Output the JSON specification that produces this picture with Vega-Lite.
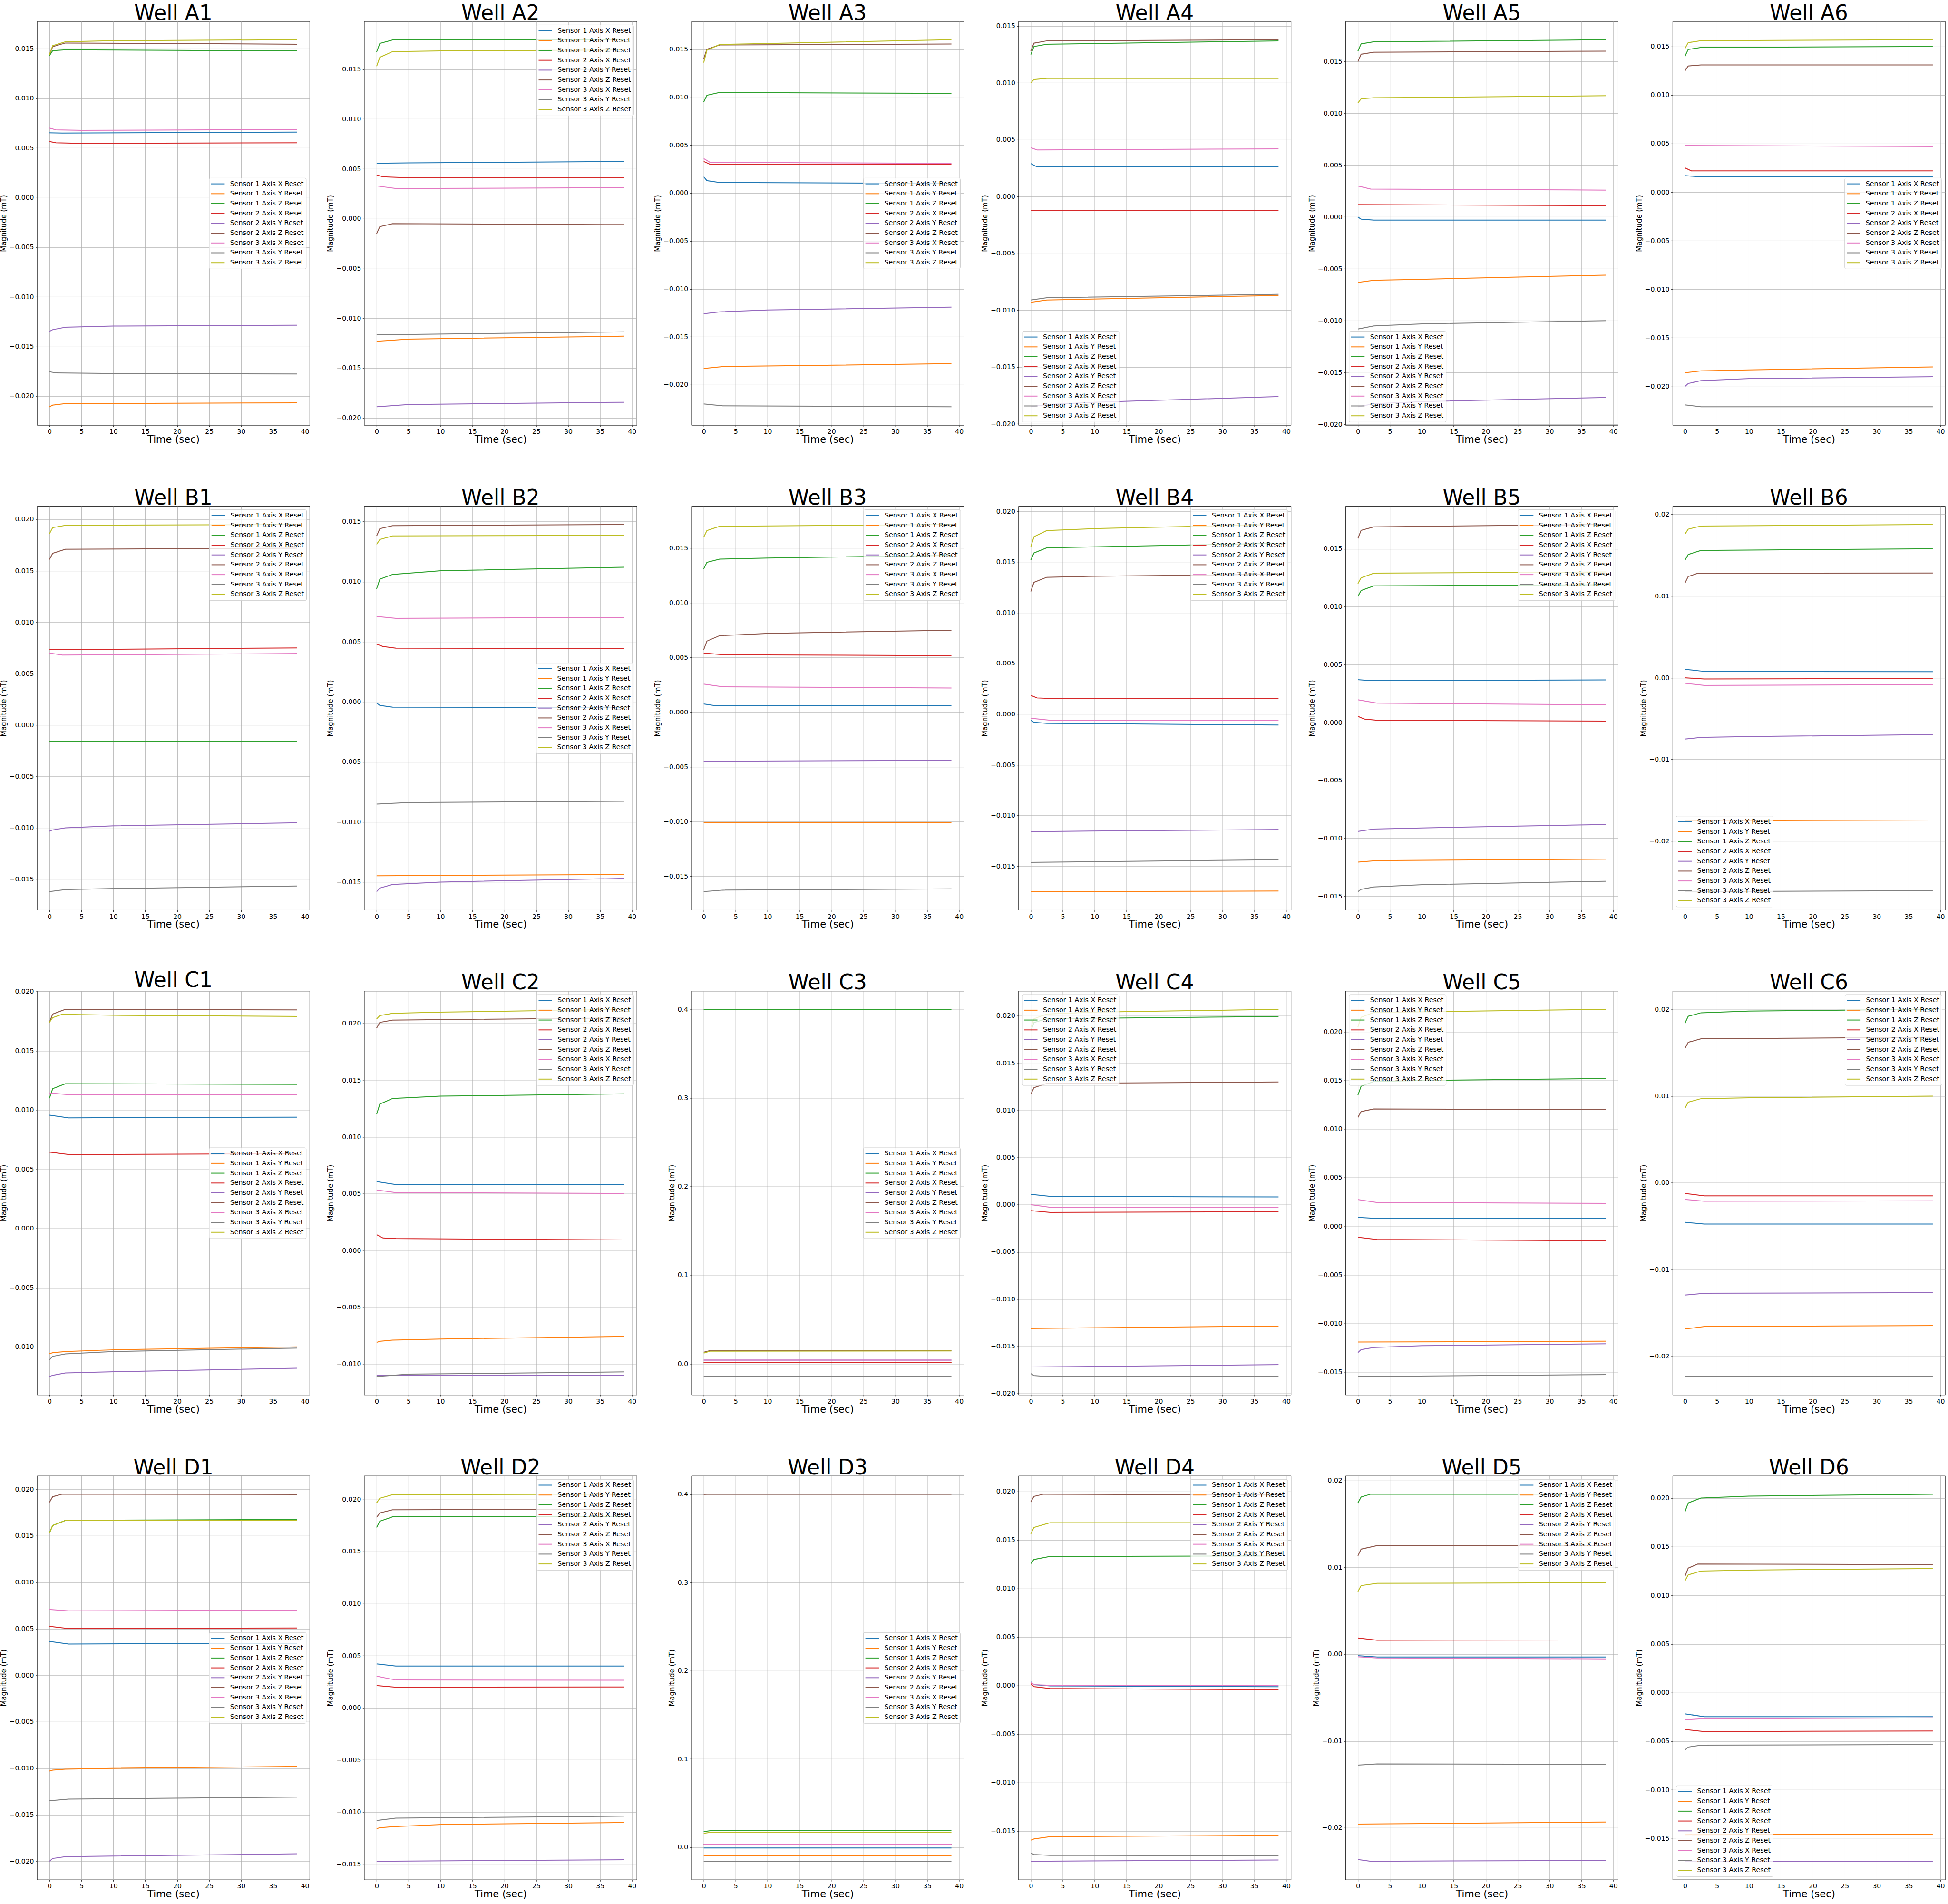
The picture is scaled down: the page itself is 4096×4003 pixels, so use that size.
{
"$schema":"https://vega.github.io/schema/vega-lite/v6.json",
"autosize":{"type":"pad"},
"padding":{"left":-1,"top":5.9,"right":0,"bottom":0},
"background":"white",
"data":{"values":[
{"w":"A1","s":"1X","t":0,"v":0.00652},{"w":"A1","s":"1X","t":2,"v":0.0065},{"w":"A1","s":"1X","t":38.8,"v":0.00659},
{"w":"A1","s":"1Y","t":0,"v":-0.02107},{"w":"A1","s":"1Y","t":0.5,"v":-0.0209},{"w":"A1","s":"1Y","t":2.5,"v":-0.02075},{"w":"A1","s":"1Y","t":38.8,"v":-0.02067},
{"w":"A1","s":"1Z","t":0,"v":0.0143},{"w":"A1","s":"1Z","t":0.5,"v":0.0148},{"w":"A1","s":"1Z","t":2.5,"v":0.01488},{"w":"A1","s":"1Z","t":38.8,"v":0.01477},
{"w":"A1","s":"2X","t":0,"v":0.00565},{"w":"A1","s":"2X","t":1,"v":0.00552},{"w":"A1","s":"2X","t":5,"v":0.00546},{"w":"A1","s":"2X","t":38.8,"v":0.00552},
{"w":"A1","s":"2Y","t":0,"v":-0.01347},{"w":"A1","s":"2Y","t":0.5,"v":-0.0133},{"w":"A1","s":"2Y","t":2.5,"v":-0.01306},{"w":"A1","s":"2Y","t":10,"v":-0.01294},{"w":"A1","s":"2Y","t":38.8,"v":-0.01285},
{"w":"A1","s":"2Z","t":0,"v":0.0144},{"w":"A1","s":"2Z","t":0.5,"v":0.0152},{"w":"A1","s":"2Z","t":2.5,"v":0.01557},{"w":"A1","s":"2Z","t":38.8,"v":0.01545},
{"w":"A1","s":"3X","t":0,"v":0.007},{"w":"A1","s":"3X","t":1,"v":0.00682},{"w":"A1","s":"3X","t":5,"v":0.00677},{"w":"A1","s":"3X","t":38.8,"v":0.00686},
{"w":"A1","s":"3Y","t":0,"v":-0.01754},{"w":"A1","s":"3Y","t":1,"v":-0.01766},{"w":"A1","s":"3Y","t":10,"v":-0.01772},{"w":"A1","s":"3Y","t":38.8,"v":-0.01776},
{"w":"A1","s":"3Z","t":0,"v":0.0144},{"w":"A1","s":"3Z","t":0.5,"v":0.0153},{"w":"A1","s":"3Z","t":2.5,"v":0.0157},{"w":"A1","s":"3Z","t":10,"v":0.0158},{"w":"A1","s":"3Z","t":38.8,"v":0.0159},

{"w":"A2","s":"1X","t":0,"v":0.00557},{"w":"A2","s":"1X","t":5,"v":0.0056},{"w":"A2","s":"1X","t":38.8,"v":0.00574},
{"w":"A2","s":"1Y","t":0,"v":-0.01231},{"w":"A2","s":"1Y","t":5,"v":-0.01209},{"w":"A2","s":"1Y","t":38.8,"v":-0.0118},
{"w":"A2","s":"1Z","t":0,"v":0.01674},{"w":"A2","s":"1Z","t":0.5,"v":0.0176},{"w":"A2","s":"1Z","t":2.5,"v":0.01795},{"w":"A2","s":"1Z","t":38.8,"v":0.01797},
{"w":"A2","s":"2X","t":0,"v":0.0044},{"w":"A2","s":"2X","t":1,"v":0.0042},{"w":"A2","s":"2X","t":5,"v":0.00411},{"w":"A2","s":"2X","t":38.8,"v":0.00414},
{"w":"A2","s":"2Y","t":0,"v":-0.01889},{"w":"A2","s":"2Y","t":5,"v":-0.01866},{"w":"A2","s":"2Y","t":38.8,"v":-0.01843},
{"w":"A2","s":"2Z","t":0,"v":-0.0015},{"w":"A2","s":"2Z","t":0.5,"v":-0.0008},{"w":"A2","s":"2Z","t":2.5,"v":-0.0005},{"w":"A2","s":"2Z","t":38.8,"v":-0.0006},
{"w":"A2","s":"3X","t":0,"v":0.00329},{"w":"A2","s":"3X","t":3,"v":0.00303},{"w":"A2","s":"3X","t":38.8,"v":0.00311},
{"w":"A2","s":"3Y","t":0,"v":-0.01166},{"w":"A2","s":"3Y","t":38.8,"v":-0.01137},
{"w":"A2","s":"3Z","t":0,"v":0.0153},{"w":"A2","s":"3Z","t":0.5,"v":0.0162},{"w":"A2","s":"3Z","t":2.5,"v":0.01678},{"w":"A2","s":"3Z","t":10,"v":0.01685},{"w":"A2","s":"3Z","t":38.8,"v":0.01694},

{"w":"A3","s":"1X","t":0,"v":0.0017},{"w":"A3","s":"1X","t":0.5,"v":0.0013},{"w":"A3","s":"1X","t":2.5,"v":0.0011},{"w":"A3","s":"1X","t":38.8,"v":0.001},
{"w":"A3","s":"1Y","t":0,"v":-0.0183},{"w":"A3","s":"1Y","t":3,"v":-0.0181},{"w":"A3","s":"1Y","t":38.8,"v":-0.0178},
{"w":"A3","s":"1Z","t":0,"v":0.0095},{"w":"A3","s":"1Z","t":0.5,"v":0.0102},{"w":"A3","s":"1Z","t":2.5,"v":0.0105},{"w":"A3","s":"1Z","t":38.8,"v":0.0104},
{"w":"A3","s":"2X","t":0,"v":0.0033},{"w":"A3","s":"2X","t":1,"v":0.003},{"w":"A3","s":"2X","t":38.8,"v":0.003},
{"w":"A3","s":"2Y","t":0,"v":-0.0126},{"w":"A3","s":"2Y","t":2.5,"v":-0.0124},{"w":"A3","s":"2Y","t":10,"v":-0.0122},{"w":"A3","s":"2Y","t":38.8,"v":-0.0119},
{"w":"A3","s":"2Z","t":0,"v":0.014},{"w":"A3","s":"2Z","t":0.5,"v":0.015},{"w":"A3","s":"2Z","t":2.5,"v":0.01545},{"w":"A3","s":"2Z","t":38.8,"v":0.01555},
{"w":"A3","s":"3X","t":0,"v":0.0036},{"w":"A3","s":"3X","t":1,"v":0.0032},{"w":"A3","s":"3X","t":38.8,"v":0.0031},
{"w":"A3","s":"3Y","t":0,"v":-0.022},{"w":"A3","s":"3Y","t":3,"v":-0.0222},{"w":"A3","s":"3Y","t":38.8,"v":-0.0223},
{"w":"A3","s":"3Z","t":0,"v":0.0136},{"w":"A3","s":"3Z","t":0.5,"v":0.0149},{"w":"A3","s":"3Z","t":2.5,"v":0.0155},{"w":"A3","s":"3Z","t":38.8,"v":0.016},

{"w":"A4","s":"1X","t":0,"v":0.0029},{"w":"A4","s":"1X","t":1,"v":0.0026},{"w":"A4","s":"1X","t":38.8,"v":0.0026},
{"w":"A4","s":"1Y","t":0,"v":-0.0093},{"w":"A4","s":"1Y","t":2.5,"v":-0.0091},{"w":"A4","s":"1Y","t":38.8,"v":-0.0087},
{"w":"A4","s":"1Z","t":0,"v":0.0125},{"w":"A4","s":"1Z","t":0.5,"v":0.0132},{"w":"A4","s":"1Z","t":2.5,"v":0.0134},{"w":"A4","s":"1Z","t":38.8,"v":0.0137},
{"w":"A4","s":"2X","t":0,"v":-0.0012},{"w":"A4","s":"2X","t":38.8,"v":-0.0012},
{"w":"A4","s":"2Y","t":0,"v":-0.0185},{"w":"A4","s":"2Y","t":2.5,"v":-0.0183},{"w":"A4","s":"2Y","t":10,"v":-0.0181},{"w":"A4","s":"2Y","t":38.8,"v":-0.0176},
{"w":"A4","s":"2Z","t":0,"v":0.0128},{"w":"A4","s":"2Z","t":0.5,"v":0.0135},{"w":"A4","s":"2Z","t":2.5,"v":0.0137},{"w":"A4","s":"2Z","t":38.8,"v":0.0138},
{"w":"A4","s":"3X","t":0,"v":0.0043},{"w":"A4","s":"3X","t":1,"v":0.0041},{"w":"A4","s":"3X","t":38.8,"v":0.0042},
{"w":"A4","s":"3Y","t":0,"v":-0.0091},{"w":"A4","s":"3Y","t":2.5,"v":-0.0089},{"w":"A4","s":"3Y","t":38.8,"v":-0.0086},
{"w":"A4","s":"3Z","t":0,"v":0.01},{"w":"A4","s":"3Z","t":0.5,"v":0.0103},{"w":"A4","s":"3Z","t":2.5,"v":0.0104},{"w":"A4","s":"3Z","t":38.8,"v":0.0104},

{"w":"A5","s":"1X","t":0,"v":0},{"w":"A5","s":"1X","t":0.5,"v":-0.0002},{"w":"A5","s":"1X","t":2.5,"v":-0.0003},{"w":"A5","s":"1X","t":38.8,"v":-0.0003},
{"w":"A5","s":"1Y","t":0,"v":-0.0063},{"w":"A5","s":"1Y","t":2.5,"v":-0.0061},{"w":"A5","s":"1Y","t":10,"v":-0.006},{"w":"A5","s":"1Y","t":38.8,"v":-0.0056},
{"w":"A5","s":"1Z","t":0,"v":0.016},{"w":"A5","s":"1Z","t":0.5,"v":0.0167},{"w":"A5","s":"1Z","t":2.5,"v":0.0169},{"w":"A5","s":"1Z","t":38.8,"v":0.0171},
{"w":"A5","s":"2X","t":0,"v":0.0012},{"w":"A5","s":"2X","t":38.8,"v":0.0011},
{"w":"A5","s":"2Y","t":0,"v":-0.0183},{"w":"A5","s":"2Y","t":2.5,"v":-0.018},{"w":"A5","s":"2Y","t":10,"v":-0.0178},{"w":"A5","s":"2Y","t":38.8,"v":-0.0174},
{"w":"A5","s":"2Z","t":0,"v":0.015},{"w":"A5","s":"2Z","t":0.5,"v":0.0157},{"w":"A5","s":"2Z","t":2.5,"v":0.0159},{"w":"A5","s":"2Z","t":38.8,"v":0.016},
{"w":"A5","s":"3X","t":0,"v":0.003},{"w":"A5","s":"3X","t":2,"v":0.0027},{"w":"A5","s":"3X","t":38.8,"v":0.0026},
{"w":"A5","s":"3Y","t":0,"v":-0.0108},{"w":"A5","s":"3Y","t":2.5,"v":-0.0105},{"w":"A5","s":"3Y","t":10,"v":-0.0103},{"w":"A5","s":"3Y","t":38.8,"v":-0.01},
{"w":"A5","s":"3Z","t":0,"v":0.011},{"w":"A5","s":"3Z","t":0.5,"v":0.0114},{"w":"A5","s":"3Z","t":2.5,"v":0.0115},{"w":"A5","s":"3Z","t":38.8,"v":0.0117},

{"w":"A6","s":"1X","t":0,"v":0.0017},{"w":"A6","s":"1X","t":2,"v":0.0016},{"w":"A6","s":"1X","t":38.8,"v":0.0016},
{"w":"A6","s":"1Y","t":0,"v":-0.0186},{"w":"A6","s":"1Y","t":2.5,"v":-0.0184},{"w":"A6","s":"1Y","t":10,"v":-0.0183},{"w":"A6","s":"1Y","t":38.8,"v":-0.018},
{"w":"A6","s":"1Z","t":0,"v":0.014},{"w":"A6","s":"1Z","t":0.5,"v":0.0147},{"w":"A6","s":"1Z","t":2.5,"v":0.0149},{"w":"A6","s":"1Z","t":38.8,"v":0.015},
{"w":"A6","s":"2X","t":0,"v":0.0025},{"w":"A6","s":"2X","t":1,"v":0.0022},{"w":"A6","s":"2X","t":38.8,"v":0.0022},
{"w":"A6","s":"2Y","t":0,"v":-0.02},{"w":"A6","s":"2Y","t":0.5,"v":-0.0197},{"w":"A6","s":"2Y","t":2.5,"v":-0.0194},{"w":"A6","s":"2Y","t":10,"v":-0.0192},{"w":"A6","s":"2Y","t":38.8,"v":-0.019},
{"w":"A6","s":"2Z","t":0,"v":0.0125},{"w":"A6","s":"2Z","t":0.5,"v":0.013},{"w":"A6","s":"2Z","t":2.5,"v":0.0131},{"w":"A6","s":"2Z","t":38.8,"v":0.0131},
{"w":"A6","s":"3X","t":0,"v":0.0048},{"w":"A6","s":"3X","t":38.8,"v":0.0047},
{"w":"A6","s":"3Y","t":0,"v":-0.0219},{"w":"A6","s":"3Y","t":2.5,"v":-0.0221},{"w":"A6","s":"3Y","t":38.8,"v":-0.0221},
{"w":"A6","s":"3Z","t":0,"v":0.0148},{"w":"A6","s":"3Z","t":0.5,"v":0.0154},{"w":"A6","s":"3Z","t":2.5,"v":0.0156},{"w":"A6","s":"3Z","t":38.8,"v":0.0157},

{"w":"B1","s":"1X","t":0,"v":-0.00156},{"w":"B1","s":"1X","t":38.8,"v":-0.00156},
{"w":"B1","s":"1Y","t":0,"v":-0.00156},{"w":"B1","s":"1Y","t":38.8,"v":-0.00156},
{"w":"B1","s":"1Z","t":0,"v":-0.00156},{"w":"B1","s":"1Z","t":38.8,"v":-0.00156},
{"w":"B1","s":"2X","t":0,"v":0.00732},{"w":"B1","s":"2X","t":38.8,"v":0.0075},
{"w":"B1","s":"2Y","t":0,"v":-0.01032},{"w":"B1","s":"2Y","t":0.5,"v":-0.0102},{"w":"B1","s":"2Y","t":2.5,"v":-0.01},{"w":"B1","s":"2Y","t":10,"v":-0.0098},{"w":"B1","s":"2Y","t":38.8,"v":-0.0095},
{"w":"B1","s":"2Z","t":0,"v":0.0161},{"w":"B1","s":"2Z","t":0.5,"v":0.0167},{"w":"B1","s":"2Z","t":2.5,"v":0.0171},{"w":"B1","s":"2Z","t":38.8,"v":0.0172},
{"w":"B1","s":"3X","t":0,"v":0.007},{"w":"B1","s":"3X","t":2,"v":0.0068},{"w":"B1","s":"3X","t":38.8,"v":0.00695},
{"w":"B1","s":"3Y","t":0,"v":-0.0162},{"w":"B1","s":"3Y","t":2.5,"v":-0.016},{"w":"B1","s":"3Y","t":10,"v":-0.0159},{"w":"B1","s":"3Y","t":38.8,"v":-0.01565},
{"w":"B1","s":"3Z","t":0,"v":0.0186},{"w":"B1","s":"3Z","t":0.5,"v":0.0192},{"w":"B1","s":"3Z","t":2.5,"v":0.01942},{"w":"B1","s":"3Z","t":38.8,"v":0.0195},

{"w":"B2","s":"1X","t":0,"v":-0.0001},{"w":"B2","s":"1X","t":0.5,"v":-0.0003},{"w":"B2","s":"1X","t":2.5,"v":-0.00045},{"w":"B2","s":"1X","t":38.8,"v":-0.00047},
{"w":"B2","s":"1Y","t":0,"v":-0.01448},{"w":"B2","s":"1Y","t":38.8,"v":-0.01437},
{"w":"B2","s":"1Z","t":0,"v":0.0094},{"w":"B2","s":"1Z","t":0.5,"v":0.0102},{"w":"B2","s":"1Z","t":2.5,"v":0.0106},{"w":"B2","s":"1Z","t":10,"v":0.0109},{"w":"B2","s":"1Z","t":38.8,"v":0.0112},
{"w":"B2","s":"2X","t":0,"v":0.00479},{"w":"B2","s":"2X","t":1,"v":0.0046},{"w":"B2","s":"2X","t":3,"v":0.00446},{"w":"B2","s":"2X","t":38.8,"v":0.00444},
{"w":"B2","s":"2Y","t":0,"v":-0.0158},{"w":"B2","s":"2Y","t":0.5,"v":-0.0155},{"w":"B2","s":"2Y","t":2.5,"v":-0.0152},{"w":"B2","s":"2Y","t":10,"v":-0.015},{"w":"B2","s":"2Y","t":38.8,"v":-0.0147},
{"w":"B2","s":"2Z","t":0,"v":0.0138},{"w":"B2","s":"2Z","t":0.5,"v":0.0144},{"w":"B2","s":"2Z","t":2.5,"v":0.01465},{"w":"B2","s":"2Z","t":38.8,"v":0.01475},
{"w":"B2","s":"3X","t":0,"v":0.0071},{"w":"B2","s":"3X","t":3,"v":0.00694},{"w":"B2","s":"3X","t":38.8,"v":0.00702},
{"w":"B2","s":"3Y","t":0,"v":-0.00851},{"w":"B2","s":"3Y","t":5,"v":-0.00838},{"w":"B2","s":"3Y","t":38.8,"v":-0.00828},
{"w":"B2","s":"3Z","t":0,"v":0.0131},{"w":"B2","s":"3Z","t":0.5,"v":0.0135},{"w":"B2","s":"3Z","t":2.5,"v":0.0138},{"w":"B2","s":"3Z","t":38.8,"v":0.01385},

{"w":"B3","s":"1X","t":0,"v":0.00075},{"w":"B3","s":"1X","t":2,"v":0.00058},{"w":"B3","s":"1X","t":38.8,"v":0.00061},
{"w":"B3","s":"1Y","t":0,"v":-0.0101},{"w":"B3","s":"1Y","t":38.8,"v":-0.0101},
{"w":"B3","s":"1Z","t":0,"v":0.0131},{"w":"B3","s":"1Z","t":0.5,"v":0.0137},{"w":"B3","s":"1Z","t":2.5,"v":0.014},{"w":"B3","s":"1Z","t":10,"v":0.0141},{"w":"B3","s":"1Z","t":38.8,"v":0.01434},
{"w":"B3","s":"2X","t":0,"v":0.00541},{"w":"B3","s":"2X","t":3,"v":0.00525},{"w":"B3","s":"2X","t":38.8,"v":0.00517},
{"w":"B3","s":"2Y","t":0,"v":-0.00448},{"w":"B3","s":"2Y","t":38.8,"v":-0.0044},
{"w":"B3","s":"2Z","t":0,"v":0.0057},{"w":"B3","s":"2Z","t":0.5,"v":0.0065},{"w":"B3","s":"2Z","t":2.5,"v":0.007},{"w":"B3","s":"2Z","t":10,"v":0.0072},{"w":"B3","s":"2Z","t":38.8,"v":0.0075},
{"w":"B3","s":"3X","t":0,"v":0.00257},{"w":"B3","s":"3X","t":3,"v":0.00232},{"w":"B3","s":"3X","t":38.8,"v":0.00221},
{"w":"B3","s":"3Y","t":0,"v":-0.01641},{"w":"B3","s":"3Y","t":3,"v":-0.01627},{"w":"B3","s":"3Y","t":38.8,"v":-0.01616},
{"w":"B3","s":"3Z","t":0,"v":0.016},{"w":"B3","s":"3Z","t":0.5,"v":0.0166},{"w":"B3","s":"3Z","t":2.5,"v":0.017},{"w":"B3","s":"3Z","t":38.8,"v":0.01716},

{"w":"B4","s":"1X","t":0,"v":-0.0006},{"w":"B4","s":"1X","t":0.5,"v":-0.0008},{"w":"B4","s":"1X","t":2.5,"v":-0.0009},{"w":"B4","s":"1X","t":38.8,"v":-0.00107},
{"w":"B4","s":"1Y","t":0,"v":-0.0175},{"w":"B4","s":"1Y","t":38.8,"v":-0.01744},
{"w":"B4","s":"1Z","t":0,"v":0.0152},{"w":"B4","s":"1Z","t":0.5,"v":0.0159},{"w":"B4","s":"1Z","t":2.5,"v":0.0164},{"w":"B4","s":"1Z","t":10,"v":0.0165},{"w":"B4","s":"1Z","t":38.8,"v":0.01685},
{"w":"B4","s":"2X","t":0,"v":0.00185},{"w":"B4","s":"2X","t":1,"v":0.0016},{"w":"B4","s":"2X","t":3,"v":0.00155},{"w":"B4","s":"2X","t":38.8,"v":0.00152},
{"w":"B4","s":"2Y","t":0,"v":-0.01158},{"w":"B4","s":"2Y","t":38.8,"v":-0.01137},
{"w":"B4","s":"2Z","t":0,"v":0.0121},{"w":"B4","s":"2Z","t":0.5,"v":0.013},{"w":"B4","s":"2Z","t":2.5,"v":0.0135},{"w":"B4","s":"2Z","t":10,"v":0.0136},{"w":"B4","s":"2Z","t":38.8,"v":0.0138},
{"w":"B4","s":"3X","t":0,"v":-0.0004},{"w":"B4","s":"3X","t":3,"v":-0.0006},{"w":"B4","s":"3X","t":38.8,"v":-0.00063},
{"w":"B4","s":"3Y","t":0,"v":-0.01461},{"w":"B4","s":"3Y","t":38.8,"v":-0.01435},
{"w":"B4","s":"3Z","t":0,"v":0.0165},{"w":"B4","s":"3Z","t":0.5,"v":0.0175},{"w":"B4","s":"3Z","t":2.5,"v":0.0181},{"w":"B4","s":"3Z","t":10,"v":0.0183},{"w":"B4","s":"3Z","t":38.8,"v":0.0187},

{"w":"B5","s":"1X","t":0,"v":0.0037},{"w":"B5","s":"1X","t":2,"v":0.00362},{"w":"B5","s":"1X","t":38.8,"v":0.00368},
{"w":"B5","s":"1Y","t":0,"v":-0.01205},{"w":"B5","s":"1Y","t":3,"v":-0.01192},{"w":"B5","s":"1Y","t":38.8,"v":-0.01179},
{"w":"B5","s":"1Z","t":0,"v":0.0109},{"w":"B5","s":"1Z","t":0.5,"v":0.0114},{"w":"B5","s":"1Z","t":2.5,"v":0.0118},{"w":"B5","s":"1Z","t":38.8,"v":0.0119},
{"w":"B5","s":"2X","t":0,"v":0.00054},{"w":"B5","s":"2X","t":1,"v":0.0003},{"w":"B5","s":"2X","t":3,"v":0.0002},{"w":"B5","s":"2X","t":38.8,"v":0.00013},
{"w":"B5","s":"2Y","t":0,"v":-0.0094},{"w":"B5","s":"2Y","t":2.5,"v":-0.0092},{"w":"B5","s":"2Y","t":10,"v":-0.0091},{"w":"B5","s":"2Y","t":38.8,"v":-0.0088},
{"w":"B5","s":"2Z","t":0,"v":0.0159},{"w":"B5","s":"2Z","t":0.5,"v":0.0166},{"w":"B5","s":"2Z","t":2.5,"v":0.0169},{"w":"B5","s":"2Z","t":38.8,"v":0.0171},
{"w":"B5","s":"3X","t":0,"v":0.00197},{"w":"B5","s":"3X","t":3,"v":0.00168},{"w":"B5","s":"3X","t":38.8,"v":0.00153},
{"w":"B5","s":"3Y","t":0,"v":-0.0146},{"w":"B5","s":"3Y","t":0.5,"v":-0.0144},{"w":"B5","s":"3Y","t":2.5,"v":-0.0142},{"w":"B5","s":"3Y","t":10,"v":-0.014},{"w":"B5","s":"3Y","t":38.8,"v":-0.0137},
{"w":"B5","s":"3Z","t":0,"v":0.012},{"w":"B5","s":"3Z","t":0.5,"v":0.0125},{"w":"B5","s":"3Z","t":2.5,"v":0.0129},{"w":"B5","s":"3Z","t":38.8,"v":0.013},

{"w":"B6","s":"1X","t":0,"v":0.00104},{"w":"B6","s":"1X","t":3,"v":0.00078},{"w":"B6","s":"1X","t":38.8,"v":0.00074},
{"w":"B6","s":"1Y","t":0,"v":-0.01752},{"w":"B6","s":"1Y","t":38.8,"v":-0.01741},
{"w":"B6","s":"1Z","t":0,"v":0.0144},{"w":"B6","s":"1Z","t":0.5,"v":0.0151},{"w":"B6","s":"1Z","t":2.5,"v":0.0156},{"w":"B6","s":"1Z","t":38.8,"v":0.0158},
{"w":"B6","s":"2X","t":0,"v":0},{"w":"B6","s":"2X","t":3,"v":-0.00015},{"w":"B6","s":"2X","t":38.8,"v":-0.00007},
{"w":"B6","s":"2Y","t":0,"v":-0.0075},{"w":"B6","s":"2Y","t":2.5,"v":-0.0073},{"w":"B6","s":"2Y","t":10,"v":-0.0072},{"w":"B6","s":"2Y","t":38.8,"v":-0.00695},
{"w":"B6","s":"2Z","t":0,"v":0.0116},{"w":"B6","s":"2Z","t":0.5,"v":0.0124},{"w":"B6","s":"2Z","t":2,"v":0.0128},{"w":"B6","s":"2Z","t":38.8,"v":0.01283},
{"w":"B6","s":"3X","t":0,"v":-0.00067},{"w":"B6","s":"3X","t":3,"v":-0.00093},{"w":"B6","s":"3X","t":38.8,"v":-0.00085},
{"w":"B6","s":"3Y","t":0,"v":-0.02619},{"w":"B6","s":"3Y","t":38.8,"v":-0.02607},
{"w":"B6","s":"3Z","t":0,"v":0.0176},{"w":"B6","s":"3Z","t":0.5,"v":0.0182},{"w":"B6","s":"3Z","t":2.5,"v":0.01858},{"w":"B6","s":"3Z","t":38.8,"v":0.01877},

{"w":"C1","s":"1X","t":0,"v":0.00957},{"w":"C1","s":"1X","t":3,"v":0.00934},{"w":"C1","s":"1X","t":38.8,"v":0.0094},
{"w":"C1","s":"1Y","t":0,"v":-0.01058},{"w":"C1","s":"1Y","t":0.5,"v":-0.0105},{"w":"C1","s":"1Y","t":2.5,"v":-0.0104},{"w":"C1","s":"1Y","t":10,"v":-0.01025},{"w":"C1","s":"1Y","t":38.8,"v":-0.01},
{"w":"C1","s":"1Z","t":0,"v":0.011},{"w":"C1","s":"1Z","t":0.5,"v":0.0118},{"w":"C1","s":"1Z","t":2.5,"v":0.01222},{"w":"C1","s":"1Z","t":38.8,"v":0.01217},
{"w":"C1","s":"2X","t":0,"v":0.00644},{"w":"C1","s":"2X","t":3,"v":0.00624},{"w":"C1","s":"2X","t":38.8,"v":0.00631},
{"w":"C1","s":"2Y","t":0,"v":-0.0125},{"w":"C1","s":"2Y","t":0.5,"v":-0.0124},{"w":"C1","s":"2Y","t":2.5,"v":-0.0122},{"w":"C1","s":"2Y","t":10,"v":-0.0121},{"w":"C1","s":"2Y","t":38.8,"v":-0.0118},
{"w":"C1","s":"2Z","t":0,"v":0.0174},{"w":"C1","s":"2Z","t":0.5,"v":0.0181},{"w":"C1","s":"2Z","t":2.5,"v":0.0185},{"w":"C1","s":"2Z","t":38.8,"v":0.01845},
{"w":"C1","s":"3X","t":0,"v":0.01144},{"w":"C1","s":"3X","t":3,"v":0.01129},{"w":"C1","s":"3X","t":38.8,"v":0.01129},
{"w":"C1","s":"3Y","t":0,"v":-0.0111},{"w":"C1","s":"3Y","t":0.5,"v":-0.0108},{"w":"C1","s":"3Y","t":2.5,"v":-0.0106},{"w":"C1","s":"3Y","t":10,"v":-0.0104},{"w":"C1","s":"3Y","t":38.8,"v":-0.0101},
{"w":"C1","s":"3Z","t":0,"v":0.0174},{"w":"C1","s":"3Z","t":0.5,"v":0.0178},{"w":"C1","s":"3Z","t":2,"v":0.01808},{"w":"C1","s":"3Z","t":10,"v":0.018},{"w":"C1","s":"3Z","t":38.8,"v":0.0179},

{"w":"C2","s":"1X","t":0,"v":0.00607},{"w":"C2","s":"1X","t":3,"v":0.00581},{"w":"C2","s":"1X","t":38.8,"v":0.00581},
{"w":"C2","s":"1Y","t":0,"v":-0.0081},{"w":"C2","s":"1Y","t":0.5,"v":-0.008},{"w":"C2","s":"1Y","t":2.5,"v":-0.0079},{"w":"C2","s":"1Y","t":10,"v":-0.0078},{"w":"C2","s":"1Y","t":38.8,"v":-0.00757},
{"w":"C2","s":"1Z","t":0,"v":0.012},{"w":"C2","s":"1Z","t":0.5,"v":0.0129},{"w":"C2","s":"1Z","t":2.5,"v":0.0134},{"w":"C2","s":"1Z","t":10,"v":0.0136},{"w":"C2","s":"1Z","t":38.8,"v":0.0138},
{"w":"C2","s":"2X","t":0,"v":0.00139},{"w":"C2","s":"2X","t":1,"v":0.0011},{"w":"C2","s":"2X","t":3,"v":0.00105},{"w":"C2","s":"2X","t":38.8,"v":0.00092},
{"w":"C2","s":"2Y","t":0,"v":-0.011},{"w":"C2","s":"2Y","t":38.8,"v":-0.011},
{"w":"C2","s":"2Z","t":0,"v":0.0196},{"w":"C2","s":"2Z","t":0.5,"v":0.0201},{"w":"C2","s":"2Z","t":2.5,"v":0.0203},{"w":"C2","s":"2Z","t":38.8,"v":0.0205},
{"w":"C2","s":"3X","t":0,"v":0.00534},{"w":"C2","s":"3X","t":3,"v":0.0051},{"w":"C2","s":"3X","t":38.8,"v":0.00503},
{"w":"C2","s":"3Y","t":0,"v":-0.0111},{"w":"C2","s":"3Y","t":5,"v":-0.0109},{"w":"C2","s":"3Y","t":38.8,"v":-0.0107},
{"w":"C2","s":"3Z","t":0,"v":0.0204},{"w":"C2","s":"3Z","t":0.5,"v":0.0207},{"w":"C2","s":"3Z","t":2.5,"v":0.0209},{"w":"C2","s":"3Z","t":10,"v":0.021},{"w":"C2","s":"3Z","t":38.8,"v":0.02125},

{"w":"C3","s":"1X","t":0,"v":0.0013},{"w":"C3","s":"1X","t":38.8,"v":0.0013},
{"w":"C3","s":"1Y","t":0,"v":0.0012},{"w":"C3","s":"1Y","t":38.8,"v":0.0012},
{"w":"C3","s":"1Z","t":0,"v":0.3995},{"w":"C3","s":"1Z","t":0.5,"v":0.4},{"w":"C3","s":"1Z","t":38.8,"v":0.4},
{"w":"C3","s":"2X","t":0,"v":0.0013},{"w":"C3","s":"2X","t":38.8,"v":0.0013},
{"w":"C3","s":"2Y","t":0,"v":0.004},{"w":"C3","s":"2Y","t":38.8,"v":0.004},
{"w":"C3","s":"2Z","t":0,"v":0.013},{"w":"C3","s":"2Z","t":1,"v":0.0148},{"w":"C3","s":"2Z","t":38.8,"v":0.0151},
{"w":"C3","s":"3X","t":0,"v":0.004},{"w":"C3","s":"3X","t":38.8,"v":0.004},
{"w":"C3","s":"3Y","t":0,"v":-0.0144},{"w":"C3","s":"3Y","t":38.8,"v":-0.0144},
{"w":"C3","s":"3Z","t":0,"v":0.012},{"w":"C3","s":"3Z","t":1,"v":0.0141},{"w":"C3","s":"3Z","t":38.8,"v":0.0144},

{"w":"C4","s":"1X","t":0,"v":0.0011},{"w":"C4","s":"1X","t":3,"v":0.00088},{"w":"C4","s":"1X","t":38.8,"v":0.00082},
{"w":"C4","s":"1Y","t":0,"v":-0.01311},{"w":"C4","s":"1Y","t":38.8,"v":-0.01286},
{"w":"C4","s":"1Z","t":0,"v":0.0184},{"w":"C4","s":"1Z","t":0.5,"v":0.0193},{"w":"C4","s":"1Z","t":2.5,"v":0.0197},{"w":"C4","s":"1Z","t":38.8,"v":0.01994},
{"w":"C4","s":"2X","t":0,"v":-0.00063},{"w":"C4","s":"2X","t":3,"v":-0.00082},{"w":"C4","s":"2X","t":38.8,"v":-0.00075},
{"w":"C4","s":"2Y","t":0,"v":-0.0172},{"w":"C4","s":"2Y","t":38.8,"v":-0.01695},
{"w":"C4","s":"2Z","t":0,"v":0.0117},{"w":"C4","s":"2Z","t":0.5,"v":0.0124},{"w":"C4","s":"2Z","t":2.5,"v":0.01285},{"w":"C4","s":"2Z","t":38.8,"v":0.013},
{"w":"C4","s":"3X","t":0,"v":0},{"w":"C4","s":"3X","t":3,"v":-0.00028},{"w":"C4","s":"3X","t":38.8,"v":-0.00028},
{"w":"C4","s":"3Y","t":0,"v":-0.0179},{"w":"C4","s":"3Y","t":0.5,"v":-0.0181},{"w":"C4","s":"3Y","t":2.5,"v":-0.0182},{"w":"C4","s":"3Y","t":38.8,"v":-0.0182},
{"w":"C4","s":"3Z","t":0,"v":0.0188},{"w":"C4","s":"3Z","t":0.5,"v":0.0197},{"w":"C4","s":"3Z","t":2.5,"v":0.0202},{"w":"C4","s":"3Z","t":10,"v":0.0204},{"w":"C4","s":"3Z","t":38.8,"v":0.0207},

{"w":"C5","s":"1X","t":0,"v":0.00091},{"w":"C5","s":"1X","t":3,"v":0.0008},{"w":"C5","s":"1X","t":38.8,"v":0.00079},
{"w":"C5","s":"1Y","t":0,"v":-0.01192},{"w":"C5","s":"1Y","t":38.8,"v":-0.01183},
{"w":"C5","s":"1Z","t":0,"v":0.0135},{"w":"C5","s":"1Z","t":0.5,"v":0.0144},{"w":"C5","s":"1Z","t":2.5,"v":0.0149},{"w":"C5","s":"1Z","t":10,"v":0.015},{"w":"C5","s":"1Z","t":38.8,"v":0.0152},
{"w":"C5","s":"2X","t":0,"v":-0.00113},{"w":"C5","s":"2X","t":3,"v":-0.00137},{"w":"C5","s":"2X","t":38.8,"v":-0.00149},
{"w":"C5","s":"2Y","t":0,"v":-0.013},{"w":"C5","s":"2Y","t":0.5,"v":-0.0127},{"w":"C5","s":"2Y","t":2.5,"v":-0.01248},{"w":"C5","s":"2Y","t":10,"v":-0.0123},{"w":"C5","s":"2Y","t":38.8,"v":-0.0121},
{"w":"C5","s":"2Z","t":0,"v":0.0112},{"w":"C5","s":"2Z","t":0.5,"v":0.0118},{"w":"C5","s":"2Z","t":2.5,"v":0.01207},{"w":"C5","s":"2Z","t":38.8,"v":0.01201},
{"w":"C5","s":"3X","t":0,"v":0.00274},{"w":"C5","s":"3X","t":3,"v":0.00244},{"w":"C5","s":"3X","t":38.8,"v":0.00235},
{"w":"C5","s":"3Y","t":0,"v":-0.01546},{"w":"C5","s":"3Y","t":38.8,"v":-0.01527},
{"w":"C5","s":"3Z","t":0,"v":0.0205},{"w":"C5","s":"3Z","t":0.5,"v":0.0215},{"w":"C5","s":"3Z","t":2.5,"v":0.022},{"w":"C5","s":"3Z","t":38.8,"v":0.02232},

{"w":"C6","s":"1X","t":0,"v":-0.00455},{"w":"C6","s":"1X","t":3,"v":-0.00476},{"w":"C6","s":"1X","t":38.8,"v":-0.00476},
{"w":"C6","s":"1Y","t":0,"v":-0.01685},{"w":"C6","s":"1Y","t":3,"v":-0.01658},{"w":"C6","s":"1Y","t":38.8,"v":-0.01647},
{"w":"C6","s":"1Z","t":0,"v":0.0184},{"w":"C6","s":"1Z","t":0.5,"v":0.0192},{"w":"C6","s":"1Z","t":2.5,"v":0.0196},{"w":"C6","s":"1Z","t":10,"v":0.0198},{"w":"C6","s":"1Z","t":38.8,"v":0.02},
{"w":"C6","s":"2X","t":0,"v":-0.00123},{"w":"C6","s":"2X","t":3,"v":-0.00151},{"w":"C6","s":"2X","t":38.8,"v":-0.00151},
{"w":"C6","s":"2Y","t":0,"v":-0.01295},{"w":"C6","s":"2Y","t":3,"v":-0.01274},{"w":"C6","s":"2Y","t":38.8,"v":-0.01267},
{"w":"C6","s":"2Z","t":0,"v":0.0155},{"w":"C6","s":"2Z","t":0.5,"v":0.0162},{"w":"C6","s":"2Z","t":2.5,"v":0.0166},{"w":"C6","s":"2Z","t":38.8,"v":0.01678},
{"w":"C6","s":"3X","t":0,"v":-0.00192},{"w":"C6","s":"3X","t":3,"v":-0.00212},{"w":"C6","s":"3X","t":38.8,"v":-0.00209},
{"w":"C6","s":"3Y","t":0,"v":-0.02233},{"w":"C6","s":"3Y","t":38.8,"v":-0.0223},
{"w":"C6","s":"3Z","t":0,"v":0.0086},{"w":"C6","s":"3Z","t":0.5,"v":0.0093},{"w":"C6","s":"3Z","t":2.5,"v":0.0097},{"w":"C6","s":"3Z","t":10,"v":0.0098},{"w":"C6","s":"3Z","t":38.8,"v":0.01},

{"w":"D1","s":"1X","t":0,"v":0.00364},{"w":"D1","s":"1X","t":3,"v":0.00336},{"w":"D1","s":"1X","t":38.8,"v":0.00343},
{"w":"D1","s":"1Y","t":0,"v":-0.0103},{"w":"D1","s":"1Y","t":0.5,"v":-0.0102},{"w":"D1","s":"1Y","t":2.5,"v":-0.0101},{"w":"D1","s":"1Y","t":10,"v":-0.01},{"w":"D1","s":"1Y","t":38.8,"v":-0.0098},
{"w":"D1","s":"1Z","t":0,"v":0.0153},{"w":"D1","s":"1Z","t":0.5,"v":0.0161},{"w":"D1","s":"1Z","t":2.5,"v":0.01665},{"w":"D1","s":"1Z","t":38.8,"v":0.01676},
{"w":"D1","s":"2X","t":0,"v":0.00526},{"w":"D1","s":"2X","t":3,"v":0.00502},{"w":"D1","s":"2X","t":38.8,"v":0.00508},
{"w":"D1","s":"2Y","t":0,"v":-0.02},{"w":"D1","s":"2Y","t":0.5,"v":-0.0197},{"w":"D1","s":"2Y","t":2.5,"v":-0.0195},{"w":"D1","s":"2Y","t":38.8,"v":-0.0192},
{"w":"D1","s":"2Z","t":0,"v":0.0186},{"w":"D1","s":"2Z","t":0.5,"v":0.0192},{"w":"D1","s":"2Z","t":2,"v":0.01947},{"w":"D1","s":"2Z","t":38.8,"v":0.01944},
{"w":"D1","s":"3X","t":0,"v":0.00707},{"w":"D1","s":"3X","t":3,"v":0.00692},{"w":"D1","s":"3X","t":38.8,"v":0.00701},
{"w":"D1","s":"3Y","t":0,"v":-0.0135},{"w":"D1","s":"3Y","t":3,"v":-0.01332},{"w":"D1","s":"3Y","t":38.8,"v":-0.0131},
{"w":"D1","s":"3Z","t":0,"v":0.0153},{"w":"D1","s":"3Z","t":0.5,"v":0.0161},{"w":"D1","s":"3Z","t":2.5,"v":0.01665},{"w":"D1","s":"3Z","t":38.8,"v":0.01668},

{"w":"D2","s":"1X","t":0,"v":0.00421},{"w":"D2","s":"1X","t":3,"v":0.00401},{"w":"D2","s":"1X","t":38.8,"v":0.00401},
{"w":"D2","s":"1Y","t":0,"v":-0.0116},{"w":"D2","s":"1Y","t":0.5,"v":-0.0115},{"w":"D2","s":"1Y","t":2.5,"v":-0.0114},{"w":"D2","s":"1Y","t":10,"v":-0.0112},{"w":"D2","s":"1Y","t":38.8,"v":-0.011},
{"w":"D2","s":"1Z","t":0,"v":0.0173},{"w":"D2","s":"1Z","t":0.5,"v":0.0179},{"w":"D2","s":"1Z","t":2.5,"v":0.01833},{"w":"D2","s":"1Z","t":38.8,"v":0.01838},
{"w":"D2","s":"2X","t":0,"v":0.00214},{"w":"D2","s":"2X","t":3,"v":0.00198},{"w":"D2","s":"2X","t":38.8,"v":0.002},
{"w":"D2","s":"2Y","t":0,"v":-0.01472},{"w":"D2","s":"2Y","t":38.8,"v":-0.01458},
{"w":"D2","s":"2Z","t":0,"v":0.01827},{"w":"D2","s":"2Z","t":0.5,"v":0.0187},{"w":"D2","s":"2Z","t":2.5,"v":0.019},{"w":"D2","s":"2Z","t":38.8,"v":0.01905},
{"w":"D2","s":"3X","t":0,"v":0.00304},{"w":"D2","s":"3X","t":3,"v":0.00267},{"w":"D2","s":"3X","t":38.8,"v":0.00265},
{"w":"D2","s":"3Y","t":0,"v":-0.01081},{"w":"D2","s":"3Y","t":3,"v":-0.01058},{"w":"D2","s":"3Y","t":38.8,"v":-0.01039},
{"w":"D2","s":"3Z","t":0,"v":0.01967},{"w":"D2","s":"3Z","t":0.5,"v":0.0201},{"w":"D2","s":"3Z","t":2.5,"v":0.02045},{"w":"D2","s":"3Z","t":38.8,"v":0.0205},

{"w":"D3","s":"1X","t":0,"v":-0.0007},{"w":"D3","s":"1X","t":38.8,"v":-0.0007},
{"w":"D3","s":"1Y","t":0,"v":-0.0095},{"w":"D3","s":"1Y","t":38.8,"v":-0.0095},
{"w":"D3","s":"1Z","t":0,"v":0.0177},{"w":"D3","s":"1Z","t":1,"v":0.0188},{"w":"D3","s":"1Z","t":38.8,"v":0.019},
{"w":"D3","s":"2X","t":0,"v":0.0033},{"w":"D3","s":"2X","t":38.8,"v":0.0033},
{"w":"D3","s":"2Y","t":0,"v":0.0033},{"w":"D3","s":"2Y","t":38.8,"v":0.0033},
{"w":"D3","s":"2Z","t":0,"v":0.3997},{"w":"D3","s":"2Z","t":0.5,"v":0.4},{"w":"D3","s":"2Z","t":38.8,"v":0.4},
{"w":"D3","s":"3X","t":0,"v":0.0033},{"w":"D3","s":"3X","t":38.8,"v":0.0033},
{"w":"D3","s":"3Y","t":0,"v":-0.0158},{"w":"D3","s":"3Y","t":38.8,"v":-0.0158},
{"w":"D3","s":"3Z","t":0,"v":0.0158},{"w":"D3","s":"3Z","t":1,"v":0.0169},{"w":"D3","s":"3Z","t":38.8,"v":0.0171},

{"w":"D4","s":"1X","t":0,"v":0.00039},{"w":"D4","s":"1X","t":0.5,"v":0.0001},{"w":"D4","s":"1X","t":3,"v":-0.00003},{"w":"D4","s":"1X","t":38.8,"v":-0.00012},
{"w":"D4","s":"1Y","t":0,"v":-0.01593},{"w":"D4","s":"1Y","t":0.5,"v":-0.0158},{"w":"D4","s":"1Y","t":3,"v":-0.01557},{"w":"D4","s":"1Y","t":38.8,"v":-0.01542},
{"w":"D4","s":"1Z","t":0,"v":0.01257},{"w":"D4","s":"1Z","t":0.5,"v":0.013},{"w":"D4","s":"1Z","t":3,"v":0.01331},{"w":"D4","s":"1Z","t":38.8,"v":0.01337},
{"w":"D4","s":"2X","t":0,"v":0.0002},{"w":"D4","s":"2X","t":0.5,"v":-0.0001},{"w":"D4","s":"2X","t":3,"v":-0.0003},{"w":"D4","s":"2X","t":38.8,"v":-0.00042},
{"w":"D4","s":"2Y","t":0,"v":-0.0181},{"w":"D4","s":"2Y","t":38.8,"v":-0.01797},
{"w":"D4","s":"2Z","t":0,"v":0.01893},{"w":"D4","s":"2Z","t":0.5,"v":0.0195},{"w":"D4","s":"2Z","t":2,"v":0.01973},{"w":"D4","s":"2Z","t":38.8,"v":0.01964},
{"w":"D4","s":"3X","t":0,"v":0.00033},{"w":"D4","s":"3X","t":0.5,"v":0.0001},{"w":"D4","s":"3X","t":3,"v":0.00003},{"w":"D4","s":"3X","t":38.8,"v":0},
{"w":"D4","s":"3Y","t":0,"v":-0.01725},{"w":"D4","s":"3Y","t":0.5,"v":-0.0174},{"w":"D4","s":"3Y","t":3,"v":-0.01749},{"w":"D4","s":"3Y","t":38.8,"v":-0.01752},
{"w":"D4","s":"3Z","t":0,"v":0.01564},{"w":"D4","s":"3Z","t":0.5,"v":0.0163},{"w":"D4","s":"3Z","t":3,"v":0.01678},{"w":"D4","s":"3Z","t":38.8,"v":0.01678},

{"w":"D5","s":"1X","t":0,"v":-0.00017},{"w":"D5","s":"1X","t":3,"v":-0.00033},{"w":"D5","s":"1X","t":38.8,"v":-0.00033},
{"w":"D5","s":"1Y","t":0,"v":-0.01957},{"w":"D5","s":"1Y","t":38.8,"v":-0.01933},
{"w":"D5","s":"1Z","t":0,"v":0.01742},{"w":"D5","s":"1Z","t":0.5,"v":0.0181},{"w":"D5","s":"1Z","t":2,"v":0.01843},{"w":"D5","s":"1Z","t":38.8,"v":0.01843},
{"w":"D5","s":"2X","t":0,"v":0.00187},{"w":"D5","s":"2X","t":3,"v":0.00161},{"w":"D5","s":"2X","t":38.8,"v":0.00164},
{"w":"D5","s":"2Y","t":0,"v":-0.02365},{"w":"D5","s":"2Y","t":2,"v":-0.02385},{"w":"D5","s":"2Y","t":38.8,"v":-0.02375},
{"w":"D5","s":"2Z","t":0,"v":0.01134},{"w":"D5","s":"2Z","t":0.5,"v":0.0121},{"w":"D5","s":"2Z","t":3,"v":0.01251},{"w":"D5","s":"2Z","t":38.8,"v":0.01251},
{"w":"D5","s":"3X","t":0,"v":-0.0003},{"w":"D5","s":"3X","t":3,"v":-0.00043},{"w":"D5","s":"3X","t":38.8,"v":-0.00054},
{"w":"D5","s":"3Y","t":0,"v":-0.01278},{"w":"D5","s":"3Y","t":3,"v":-0.01264},{"w":"D5","s":"3Y","t":38.8,"v":-0.01268},
{"w":"D5","s":"3Z","t":0,"v":0.00722},{"w":"D5","s":"3Z","t":0.5,"v":0.0079},{"w":"D5","s":"3Z","t":3,"v":0.00816},{"w":"D5","s":"3Z","t":38.8,"v":0.00823},

{"w":"D6","s":"1X","t":0,"v":-0.00218},{"w":"D6","s":"1X","t":3,"v":-0.00248},{"w":"D6","s":"1X","t":38.8,"v":-0.00248},
{"w":"D6","s":"1Y","t":0,"v":-0.0146},{"w":"D6","s":"1Y","t":38.8,"v":-0.01454},
{"w":"D6","s":"1Z","t":0,"v":0.0186},{"w":"D6","s":"1Z","t":0.5,"v":0.0195},{"w":"D6","s":"1Z","t":2.5,"v":0.02},{"w":"D6","s":"1Z","t":10,"v":0.0202},{"w":"D6","s":"1Z","t":38.8,"v":0.0204},
{"w":"D6","s":"2X","t":0,"v":-0.00379},{"w":"D6","s":"2X","t":3,"v":-0.004},{"w":"D6","s":"2X","t":38.8,"v":-0.00394},
{"w":"D6","s":"2Y","t":0,"v":-0.01734},{"w":"D6","s":"2Y","t":38.8,"v":-0.01734},
{"w":"D6","s":"2Z","t":0,"v":0.01197},{"w":"D6","s":"2Z","t":0.5,"v":0.0128},{"w":"D6","s":"2Z","t":2,"v":0.01322},{"w":"D6","s":"2Z","t":38.8,"v":0.01316},
{"w":"D6","s":"3X","t":0,"v":-0.0028},{"w":"D6","s":"3X","t":2.5,"v":-0.0027},{"w":"D6","s":"3X","t":38.8,"v":-0.0026},
{"w":"D6","s":"3Y","t":0,"v":-0.0059},{"w":"D6","s":"3Y","t":0.5,"v":-0.0056},{"w":"D6","s":"3Y","t":2.5,"v":-0.0054},{"w":"D6","s":"3Y","t":38.8,"v":-0.00534},
{"w":"D6","s":"3Z","t":0,"v":0.0115},{"w":"D6","s":"3Z","t":0.5,"v":0.0121},{"w":"D6","s":"3Z","t":2.5,"v":0.0125},{"w":"D6","s":"3Z","t":10,"v":0.0126},{"w":"D6","s":"3Z","t":38.8,"v":0.01275}
]},
"columns":6,
"spacing":{"row":170.3,"column":114.8},
"bounds":"flush",
"resolve":{"scale":{"color":"independent","x":"independent","y":"independent"},"legend":{"color":"independent"},"axis":{"x":"independent","y":"independent"}},
"concat":[
{"title":"Well A1","width":573,"height":849,"transform":[{"filter":"datum.w==='A1'"}],"mark":"line","encoding":{"x":{"field":"t","type":"quantitative","scale":{"domain":[-1.94,40.74],"nice":false,"zero":false},"axis":{"values":[0,5,10,15,20,25,30,35,40],"format":"d","title":"Time (sec)"}},"y":{"field":"v","type":"quantitative","scale":{"padding":38.6,"nice":false,"zero":false},"axis":{"values":[-0.02,-0.015,-0.01,-0.005,0,0.005,0.01,0.015],"format":".3f","title":"Magnitude (mT)"}},"color":{"field":"s","type":"nominal","legend":{"title":null,"labelExpr":"'Sensor ' + substring(datum.label,0,1) + ' Axis ' + substring(datum.label,1,2) + ' Reset'","orient":"none","legendX":361.3,"legendY":329}}}},
{"title":"Well A2","width":573,"height":849,"transform":[{"filter":"datum.w==='A2'"}],"mark":"line","encoding":{"x":{"field":"t","type":"quantitative","scale":{"domain":[-1.94,40.74],"nice":false,"zero":false},"axis":{"values":[0,5,10,15,20,25,30,35,40],"format":"d","title":"Time (sec)"}},"y":{"field":"v","type":"quantitative","scale":{"padding":38.6,"nice":false,"zero":false},"axis":{"values":[-0.02,-0.015,-0.01,-0.005,0,0.005,0.01,0.015],"format":".3f","title":"Magnitude (mT)"}},"color":{"field":"s","type":"nominal","legend":{"title":null,"labelExpr":"'Sensor ' + substring(datum.label,0,1) + ' Axis ' + substring(datum.label,1,2) + ' Reset'","orient":"top-right"}}}},
{"title":"Well A3","width":573,"height":849,"transform":[{"filter":"datum.w==='A3'"}],"mark":"line","encoding":{"x":{"field":"t","type":"quantitative","scale":{"domain":[-1.94,40.74],"nice":false,"zero":false},"axis":{"values":[0,5,10,15,20,25,30,35,40],"format":"d","title":"Time (sec)"}},"y":{"field":"v","type":"quantitative","scale":{"padding":38.6,"nice":false,"zero":false},"axis":{"values":[-0.02,-0.015,-0.01,-0.005,0,0.005,0.01,0.015],"format":".3f","title":"Magnitude (mT)"}},"color":{"field":"s","type":"nominal","legend":{"title":null,"labelExpr":"'Sensor ' + substring(datum.label,0,1) + ' Axis ' + substring(datum.label,1,2) + ' Reset'","orient":"none","legendX":361.3,"legendY":329}}}},
{"title":"Well A4","width":573,"height":849,"transform":[{"filter":"datum.w==='A4'"}],"mark":"line","encoding":{"x":{"field":"t","type":"quantitative","scale":{"domain":[-1.94,40.74],"nice":false,"zero":false},"axis":{"values":[0,5,10,15,20,25,30,35,40],"format":"d","title":"Time (sec)"}},"y":{"field":"v","type":"quantitative","scale":{"padding":38.6,"nice":false,"zero":false},"axis":{"values":[-0.02,-0.015,-0.01,-0.005,0,0.005,0.01,0.015],"format":".3f","title":"Magnitude (mT)"}},"color":{"field":"s","type":"nominal","legend":{"title":null,"labelExpr":"'Sensor ' + substring(datum.label,0,1) + ' Axis ' + substring(datum.label,1,2) + ' Reset'","orient":"bottom-left"}}}},
{"title":"Well A5","width":573,"height":849,"transform":[{"filter":"datum.w==='A5'"}],"mark":"line","encoding":{"x":{"field":"t","type":"quantitative","scale":{"domain":[-1.94,40.74],"nice":false,"zero":false},"axis":{"values":[0,5,10,15,20,25,30,35,40],"format":"d","title":"Time (sec)"}},"y":{"field":"v","type":"quantitative","scale":{"padding":38.6,"nice":false,"zero":false},"axis":{"values":[-0.02,-0.015,-0.01,-0.005,0,0.005,0.01,0.015],"format":".3f","title":"Magnitude (mT)"}},"color":{"field":"s","type":"nominal","legend":{"title":null,"labelExpr":"'Sensor ' + substring(datum.label,0,1) + ' Axis ' + substring(datum.label,1,2) + ' Reset'","orient":"bottom-left"}}}},
{"title":"Well A6","width":573,"height":849,"transform":[{"filter":"datum.w==='A6'"}],"mark":"line","encoding":{"x":{"field":"t","type":"quantitative","scale":{"domain":[-1.94,40.74],"nice":false,"zero":false},"axis":{"values":[0,5,10,15,20,25,30,35,40],"format":"d","title":"Time (sec)"}},"y":{"field":"v","type":"quantitative","scale":{"padding":38.6,"nice":false,"zero":false},"axis":{"values":[-0.02,-0.015,-0.01,-0.005,0,0.005,0.01,0.015],"format":".3f","title":"Magnitude (mT)"}},"color":{"field":"s","type":"nominal","legend":{"title":null,"labelExpr":"'Sensor ' + substring(datum.label,0,1) + ' Axis ' + substring(datum.label,1,2) + ' Reset'","orient":"none","legendX":361.3,"legendY":329}}}},
{"title":"Well B1","width":573,"height":849,"transform":[{"filter":"datum.w==='B1'"}],"mark":"line","encoding":{"x":{"field":"t","type":"quantitative","scale":{"domain":[-1.94,40.74],"nice":false,"zero":false},"axis":{"values":[0,5,10,15,20,25,30,35,40],"format":"d","title":"Time (sec)"}},"y":{"field":"v","type":"quantitative","scale":{"padding":38.6,"nice":false,"zero":false},"axis":{"values":[-0.015,-0.01,-0.005,0,0.005,0.01,0.015,0.02],"format":".3f","title":"Magnitude (mT)"}},"color":{"field":"s","type":"nominal","legend":{"title":null,"labelExpr":"'Sensor ' + substring(datum.label,0,1) + ' Axis ' + substring(datum.label,1,2) + ' Reset'","orient":"top-right"}}}},
{"title":"Well B2","width":573,"height":849,"transform":[{"filter":"datum.w==='B2'"}],"mark":"line","encoding":{"x":{"field":"t","type":"quantitative","scale":{"domain":[-1.94,40.74],"nice":false,"zero":false},"axis":{"values":[0,5,10,15,20,25,30,35,40],"format":"d","title":"Time (sec)"}},"y":{"field":"v","type":"quantitative","scale":{"padding":38.6,"nice":false,"zero":false},"axis":{"values":[-0.015,-0.01,-0.005,0,0.005,0.01,0.015],"format":".3f","title":"Magnitude (mT)"}},"color":{"field":"s","type":"nominal","legend":{"title":null,"labelExpr":"'Sensor ' + substring(datum.label,0,1) + ' Axis ' + substring(datum.label,1,2) + ' Reset'","orient":"none","legendX":361.3,"legendY":329}}}},
{"title":"Well B3","width":573,"height":849,"transform":[{"filter":"datum.w==='B3'"}],"mark":"line","encoding":{"x":{"field":"t","type":"quantitative","scale":{"domain":[-1.94,40.74],"nice":false,"zero":false},"axis":{"values":[0,5,10,15,20,25,30,35,40],"format":"d","title":"Time (sec)"}},"y":{"field":"v","type":"quantitative","scale":{"padding":38.6,"nice":false,"zero":false},"axis":{"values":[-0.015,-0.01,-0.005,0,0.005,0.01,0.015],"format":".3f","title":"Magnitude (mT)"}},"color":{"field":"s","type":"nominal","legend":{"title":null,"labelExpr":"'Sensor ' + substring(datum.label,0,1) + ' Axis ' + substring(datum.label,1,2) + ' Reset'","orient":"top-right"}}}},
{"title":"Well B4","width":573,"height":849,"transform":[{"filter":"datum.w==='B4'"}],"mark":"line","encoding":{"x":{"field":"t","type":"quantitative","scale":{"domain":[-1.94,40.74],"nice":false,"zero":false},"axis":{"values":[0,5,10,15,20,25,30,35,40],"format":"d","title":"Time (sec)"}},"y":{"field":"v","type":"quantitative","scale":{"padding":38.6,"nice":false,"zero":false},"axis":{"values":[-0.015,-0.01,-0.005,0,0.005,0.01,0.015,0.02],"format":".3f","title":"Magnitude (mT)"}},"color":{"field":"s","type":"nominal","legend":{"title":null,"labelExpr":"'Sensor ' + substring(datum.label,0,1) + ' Axis ' + substring(datum.label,1,2) + ' Reset'","orient":"top-right"}}}},
{"title":"Well B5","width":573,"height":849,"transform":[{"filter":"datum.w==='B5'"}],"mark":"line","encoding":{"x":{"field":"t","type":"quantitative","scale":{"domain":[-1.94,40.74],"nice":false,"zero":false},"axis":{"values":[0,5,10,15,20,25,30,35,40],"format":"d","title":"Time (sec)"}},"y":{"field":"v","type":"quantitative","scale":{"padding":38.6,"nice":false,"zero":false},"axis":{"values":[-0.015,-0.01,-0.005,0,0.005,0.01,0.015],"format":".3f","title":"Magnitude (mT)"}},"color":{"field":"s","type":"nominal","legend":{"title":null,"labelExpr":"'Sensor ' + substring(datum.label,0,1) + ' Axis ' + substring(datum.label,1,2) + ' Reset'","orient":"top-right"}}}},
{"title":"Well B6","width":573,"height":849,"transform":[{"filter":"datum.w==='B6'"}],"mark":"line","encoding":{"x":{"field":"t","type":"quantitative","scale":{"domain":[-1.94,40.74],"nice":false,"zero":false},"axis":{"values":[0,5,10,15,20,25,30,35,40],"format":"d","title":"Time (sec)"}},"y":{"field":"v","type":"quantitative","scale":{"padding":38.6,"nice":false,"zero":false},"axis":{"values":[-0.02,-0.01,0,0.01,0.02],"format":".2f","title":"Magnitude (mT)"}},"color":{"field":"s","type":"nominal","legend":{"title":null,"labelExpr":"'Sensor ' + substring(datum.label,0,1) + ' Axis ' + substring(datum.label,1,2) + ' Reset'","orient":"bottom-left"}}}},
{"title":"Well C1","width":573,"height":849,"transform":[{"filter":"datum.w==='C1'"}],"mark":"line","encoding":{"x":{"field":"t","type":"quantitative","scale":{"domain":[-1.94,40.74],"nice":false,"zero":false},"axis":{"values":[0,5,10,15,20,25,30,35,40],"format":"d","title":"Time (sec)"}},"y":{"field":"v","type":"quantitative","scale":{"padding":38.6,"nice":false,"zero":false},"axis":{"values":[-0.01,-0.005,0,0.005,0.01,0.015,0.02],"format":".3f","title":"Magnitude (mT)"}},"color":{"field":"s","type":"nominal","legend":{"title":null,"labelExpr":"'Sensor ' + substring(datum.label,0,1) + ' Axis ' + substring(datum.label,1,2) + ' Reset'","orient":"none","legendX":361.3,"legendY":329}}}},
{"title":"Well C2","width":573,"height":849,"transform":[{"filter":"datum.w==='C2'"}],"mark":"line","encoding":{"x":{"field":"t","type":"quantitative","scale":{"domain":[-1.94,40.74],"nice":false,"zero":false},"axis":{"values":[0,5,10,15,20,25,30,35,40],"format":"d","title":"Time (sec)"}},"y":{"field":"v","type":"quantitative","scale":{"padding":38.6,"nice":false,"zero":false},"axis":{"values":[-0.01,-0.005,0,0.005,0.01,0.015,0.02],"format":".3f","title":"Magnitude (mT)"}},"color":{"field":"s","type":"nominal","legend":{"title":null,"labelExpr":"'Sensor ' + substring(datum.label,0,1) + ' Axis ' + substring(datum.label,1,2) + ' Reset'","orient":"top-right"}}}},
{"title":"Well C3","width":573,"height":849,"transform":[{"filter":"datum.w==='C3'"}],"mark":"line","encoding":{"x":{"field":"t","type":"quantitative","scale":{"domain":[-1.94,40.74],"nice":false,"zero":false},"axis":{"values":[0,5,10,15,20,25,30,35,40],"format":"d","title":"Time (sec)"}},"y":{"field":"v","type":"quantitative","scale":{"padding":38.6,"nice":false,"zero":false},"axis":{"values":[0,0.1,0.2,0.3,0.4],"format":".1f","title":"Magnitude (mT)"}},"color":{"field":"s","type":"nominal","legend":{"title":null,"labelExpr":"'Sensor ' + substring(datum.label,0,1) + ' Axis ' + substring(datum.label,1,2) + ' Reset'","orient":"none","legendX":361.3,"legendY":329}}}},
{"title":"Well C4","width":573,"height":849,"transform":[{"filter":"datum.w==='C4'"}],"mark":"line","encoding":{"x":{"field":"t","type":"quantitative","scale":{"domain":[-1.94,40.74],"nice":false,"zero":false},"axis":{"values":[0,5,10,15,20,25,30,35,40],"format":"d","title":"Time (sec)"}},"y":{"field":"v","type":"quantitative","scale":{"padding":38.6,"nice":false,"zero":false},"axis":{"values":[-0.02,-0.015,-0.01,-0.005,0,0.005,0.01,0.015,0.02],"format":".3f","title":"Magnitude (mT)"}},"color":{"field":"s","type":"nominal","legend":{"title":null,"labelExpr":"'Sensor ' + substring(datum.label,0,1) + ' Axis ' + substring(datum.label,1,2) + ' Reset'","orient":"top-left"}}}},
{"title":"Well C5","width":573,"height":849,"transform":[{"filter":"datum.w==='C5'"}],"mark":"line","encoding":{"x":{"field":"t","type":"quantitative","scale":{"domain":[-1.94,40.74],"nice":false,"zero":false},"axis":{"values":[0,5,10,15,20,25,30,35,40],"format":"d","title":"Time (sec)"}},"y":{"field":"v","type":"quantitative","scale":{"padding":38.6,"nice":false,"zero":false},"axis":{"values":[-0.015,-0.01,-0.005,0,0.005,0.01,0.015,0.02],"format":".3f","title":"Magnitude (mT)"}},"color":{"field":"s","type":"nominal","legend":{"title":null,"labelExpr":"'Sensor ' + substring(datum.label,0,1) + ' Axis ' + substring(datum.label,1,2) + ' Reset'","orient":"top-left"}}}},
{"title":"Well C6","width":573,"height":849,"transform":[{"filter":"datum.w==='C6'"}],"mark":"line","encoding":{"x":{"field":"t","type":"quantitative","scale":{"domain":[-1.94,40.74],"nice":false,"zero":false},"axis":{"values":[0,5,10,15,20,25,30,35,40],"format":"d","title":"Time (sec)"}},"y":{"field":"v","type":"quantitative","scale":{"padding":38.6,"nice":false,"zero":false},"axis":{"values":[-0.02,-0.01,0,0.01,0.02],"format":".2f","title":"Magnitude (mT)"}},"color":{"field":"s","type":"nominal","legend":{"title":null,"labelExpr":"'Sensor ' + substring(datum.label,0,1) + ' Axis ' + substring(datum.label,1,2) + ' Reset'","orient":"top-right"}}}},
{"title":"Well D1","width":573,"height":849,"transform":[{"filter":"datum.w==='D1'"}],"mark":"line","encoding":{"x":{"field":"t","type":"quantitative","scale":{"domain":[-1.94,40.74],"nice":false,"zero":false},"axis":{"values":[0,5,10,15,20,25,30,35,40],"format":"d","title":"Time (sec)"}},"y":{"field":"v","type":"quantitative","scale":{"padding":38.6,"nice":false,"zero":false},"axis":{"values":[-0.02,-0.015,-0.01,-0.005,0,0.005,0.01,0.015,0.02],"format":".3f","title":"Magnitude (mT)"}},"color":{"field":"s","type":"nominal","legend":{"title":null,"labelExpr":"'Sensor ' + substring(datum.label,0,1) + ' Axis ' + substring(datum.label,1,2) + ' Reset'","orient":"none","legendX":361.3,"legendY":329}}}},
{"title":"Well D2","width":573,"height":849,"transform":[{"filter":"datum.w==='D2'"}],"mark":"line","encoding":{"x":{"field":"t","type":"quantitative","scale":{"domain":[-1.94,40.74],"nice":false,"zero":false},"axis":{"values":[0,5,10,15,20,25,30,35,40],"format":"d","title":"Time (sec)"}},"y":{"field":"v","type":"quantitative","scale":{"padding":38.6,"nice":false,"zero":false},"axis":{"values":[-0.015,-0.01,-0.005,0,0.005,0.01,0.015,0.02],"format":".3f","title":"Magnitude (mT)"}},"color":{"field":"s","type":"nominal","legend":{"title":null,"labelExpr":"'Sensor ' + substring(datum.label,0,1) + ' Axis ' + substring(datum.label,1,2) + ' Reset'","orient":"top-right"}}}},
{"title":"Well D3","width":573,"height":849,"transform":[{"filter":"datum.w==='D3'"}],"mark":"line","encoding":{"x":{"field":"t","type":"quantitative","scale":{"domain":[-1.94,40.74],"nice":false,"zero":false},"axis":{"values":[0,5,10,15,20,25,30,35,40],"format":"d","title":"Time (sec)"}},"y":{"field":"v","type":"quantitative","scale":{"padding":38.6,"nice":false,"zero":false},"axis":{"values":[0,0.1,0.2,0.3,0.4],"format":".1f","title":"Magnitude (mT)"}},"color":{"field":"s","type":"nominal","legend":{"title":null,"labelExpr":"'Sensor ' + substring(datum.label,0,1) + ' Axis ' + substring(datum.label,1,2) + ' Reset'","orient":"none","legendX":361.3,"legendY":329}}}},
{"title":"Well D4","width":573,"height":849,"transform":[{"filter":"datum.w==='D4'"}],"mark":"line","encoding":{"x":{"field":"t","type":"quantitative","scale":{"domain":[-1.94,40.74],"nice":false,"zero":false},"axis":{"values":[0,5,10,15,20,25,30,35,40],"format":"d","title":"Time (sec)"}},"y":{"field":"v","type":"quantitative","scale":{"padding":38.6,"nice":false,"zero":false},"axis":{"values":[-0.02,-0.015,-0.01,-0.005,0,0.005,0.01,0.015,0.02],"format":".3f","title":"Magnitude (mT)"}},"color":{"field":"s","type":"nominal","legend":{"title":null,"labelExpr":"'Sensor ' + substring(datum.label,0,1) + ' Axis ' + substring(datum.label,1,2) + ' Reset'","orient":"top-right"}}}},
{"title":"Well D5","width":573,"height":849,"transform":[{"filter":"datum.w==='D5'"}],"mark":"line","encoding":{"x":{"field":"t","type":"quantitative","scale":{"domain":[-1.94,40.74],"nice":false,"zero":false},"axis":{"values":[0,5,10,15,20,25,30,35,40],"format":"d","title":"Time (sec)"}},"y":{"field":"v","type":"quantitative","scale":{"padding":38.6,"nice":false,"zero":false},"axis":{"values":[-0.02,-0.01,0,0.01,0.02],"format":".2f","title":"Magnitude (mT)"}},"color":{"field":"s","type":"nominal","legend":{"title":null,"labelExpr":"'Sensor ' + substring(datum.label,0,1) + ' Axis ' + substring(datum.label,1,2) + ' Reset'","orient":"top-right"}}}},
{"title":"Well D6","width":573,"height":849,"transform":[{"filter":"datum.w==='D6'"}],"mark":"line","encoding":{"x":{"field":"t","type":"quantitative","scale":{"domain":[-1.94,40.74],"nice":false,"zero":false},"axis":{"values":[0,5,10,15,20,25,30,35,40],"format":"d","title":"Time (sec)"}},"y":{"field":"v","type":"quantitative","scale":{"padding":38.6,"nice":false,"zero":false},"axis":{"values":[-0.015,-0.01,-0.005,0,0.005,0.01,0.015,0.02],"format":".3f","title":"Magnitude (mT)"}},"color":{"field":"s","type":"nominal","legend":{"title":null,"labelExpr":"'Sensor ' + substring(datum.label,0,1) + ' Axis ' + substring(datum.label,1,2) + ' Reset'","orient":"bottom-left"}}}}
],
"config":{
"font":"DejaVu Sans",
"view":{"stroke":"#000000","strokeWidth":0.8},
"line":{"strokeWidth":2},
"range":{"category":["#1f77b4","#ff7f0e","#2ca02c","#d62728","#9467bd","#8c564b","#e377c2","#7f7f7f","#bcbd22"]},
"title":{"font":"DejaVu Sans","fontSize":44,"fontWeight":"normal","color":"#000000","anchor":"middle","offset":-6,"frame":"group"},
"axis":{"domain":false,"grid":true,"gridColor":"#b0b0b0","gridWidth":0.8,"tickColor":"#000000","tickSize":3.5,"tickWidth":0.8,"labelFont":"DejaVu Sans","labelFontSize":14,"labelColor":"#000000","labelPadding":3.5,"labelFlush":false,"labelOverlap":false,"labelBound":false,"titleFont":"DejaVu Sans","titleFontWeight":"normal","titleColor":"#000000"},
"axisX":{"titleFontSize":21,"titleBaseline":"alphabetic","titleY":36.7},
"axisY":{"titleFontSize":15,"titlePadding":4},
"legend":{"labelFont":"DejaVu Sans","labelFontSize":14.2,"labelColor":"#000000","labelLimit":400,"symbolType":"M-1.143,0L2.914,0","symbolSize":196,"symbolStrokeWidth":1.8,"rowPadding":4.7,"padding":4.7,"labelOffset":23.8,"strokeColor":"#cccccc","fillColor":"rgba(255,255,255,0.8)","cornerRadius":3,"offset":7.2}
}
}
